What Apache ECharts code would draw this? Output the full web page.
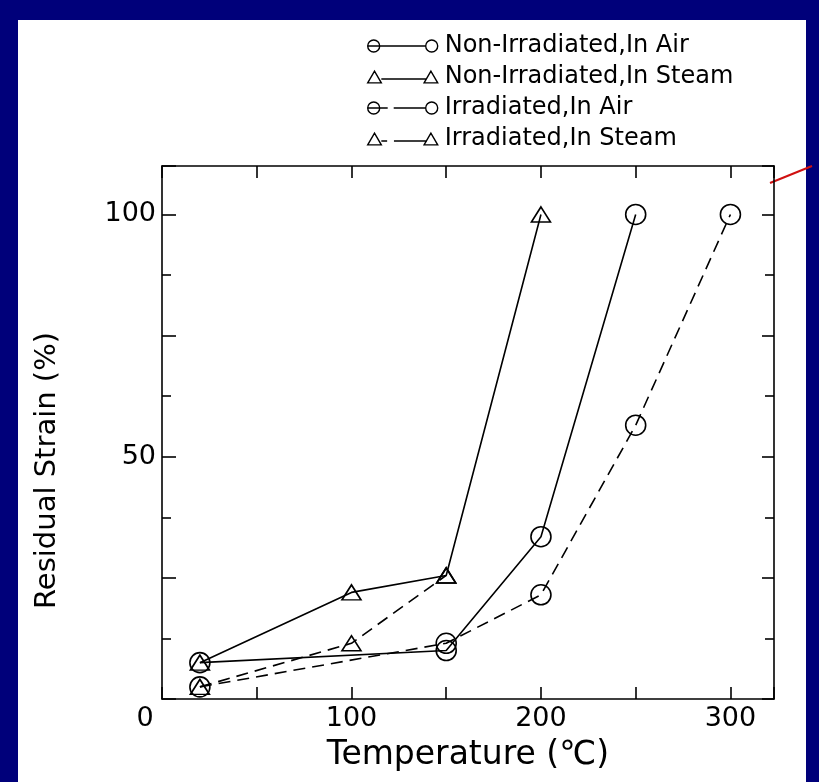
<!DOCTYPE html>
<html>
<head>
    <meta charset="utf-8">
    <title>Residual Strain</title>
    <script type="text/javascript" src="https://cdn.jsdelivr.net/npm/echarts@6.0.0/dist/echarts.min.js"></script>
    <style>
        body { margin:0; background:#00007a; }
        #paper { position:absolute; left:18px; top:20px; width:788px; height:762px; background:#fff; }
        #main { position:absolute; left:0; top:0; width:819px; height:782px; }
    </style>
</head>
<body>
    <div id="paper"></div>
    <div id="main"></div>
    <script type="text/javascript">
        // data (temperature in C, strain in %)
        var nonIrrAirT   = [20, 150, 200, 250];
        var nonIrrAirS   = [7.5, 10, 33.5, 100];
        var nonIrrSteamT = [20, 100, 150, 200];
        var nonIrrSteamS = [7.5, 22, 25.5, 100];
        var irrAirT      = [20, 150, 200, 250, 300];
        var irrAirS      = [2.5, 11.5, 21.5, 56.5, 100];
        var irrSteamT    = [20, 100, 150];
        var irrSteamS    = [2.5, 11.5, 25.5];
        var names = ['Non-Irradiated,In Air', 'Non-Irradiated,In Steam', 'Irradiated,In Air', 'Irradiated,In Steam'];
        var xLabels = [0, 100, 200, 300];
        var yLabels = [50, 100];

        var myChart = echarts.init(document.getElementById('main'));
        var font = 'DejaVu Sans';

        function pairs(xs, ys) {
            var out = [];
            for (var i = 0; i < xs.length; i++) out.push([xs[i], ys[i]]);
            return out;
        }

        function makeSeries(name, xs, ys, sym, dashed) {
            return {
                name: name,
                type: 'line',
                data: pairs(xs, ys),
                symbol: sym,
                symbolSize: sym == 'triangle' ? [19, 15] : 20,
                lineStyle: { color: '#000', width: 1.6, type: dashed ? [12, 7] : 'solid' },
                itemStyle: { color: 'rgba(255,255,255,0)', borderColor: '#000', borderWidth: 1.6 },
                z: 3
            };
        }

        // legend icons: symbol at both ends, like the printed key
        var circL = 'M1 7 A6 6 0 1 1 13 7 A6 6 0 1 1 1 7 Z ';
        var circR = 'M59 7 A6 6 0 1 1 71 7 A6 6 0 1 1 59 7 Z ';
        var triL = 'M0 13 L7 1 L14 13 Z ';
        var triR = 'M58 13 L65 1 L72 13 Z ';
        var icons = [
            'path://' + circL + 'M1 7 L59 7 ' + circR,
            'path://' + triL + 'M14 9 L60 9 ' + triR,
            'path://' + circL + 'M1 7 L21 7 M27 7 L59 7 ' + circR,
            'path://' + triL + 'M14 9 L20 9 M27 9 L61 9 ' + triR
        ];
        var legendData = [];
        for (var k = 0; k < names.length; k++) {
            legendData.push({ name: names[k], icon: icons[k],
                itemStyle: { color: 'rgba(255,255,255,0)', borderColor: '#000', borderWidth: 1.4 } });
        }

        var tickStyle = { color: '#000', width: 1.6 };

        option = {
            animation: false,
            legend: {
                orient: 'vertical',
                left: 362,
                top: 29,
                itemWidth: 70,
                itemHeight: 14,
                itemGap: 7,
                textStyle: { fontFamily: font, fontSize: 24, lineHeight: 24, color: '#000', padding: [0, 0, 0, 2] },
                data: legendData
            },
            grid: { left: 162, right: 45, top: 166, bottom: 83 },
            xAxis: [
                {
                    type: 'value', min: 0, max: 323, interval: 50,
                    name: 'Temperature (\u2103)', nameLocation: 'middle', nameGap: 40,
                    nameTextStyle: { fontFamily: font, fontSize: 33, color: '#000' },
                    axisLine: { onZero: false, lineStyle: tickStyle },
                    axisTick: { inside: true, length: 12, lineStyle: tickStyle },
                    splitLine: { show: false },
                    axisLabel: {
                        margin: 6, fontFamily: font, fontSize: 27, color: '#000',
                        formatter: function (v) {
                            if (v === 0) return '{o|0}';
                            return xLabels.indexOf(v) >= 0 ? String(v) : '';
                        },
                        rich: { o: { fontFamily: font, fontSize: 27, color: '#000', padding: [0, 34, 0, 0] } }
                    }
                },
                {
                    type: 'value', position: 'top', min: 0, max: 323, interval: 50,
                    axisLine: { onZero: false, lineStyle: tickStyle },
                    axisTick: { inside: true, length: 12, lineStyle: tickStyle },
                    axisLabel: { show: false },
                    splitLine: { show: false }
                }
            ],
            yAxis: [
                {
                    type: 'value', min: 0, max: 110, interval: 25,
                    name: 'Residual Strain (%)', nameLocation: 'middle', nameGap: 100,
                    nameTextStyle: { fontFamily: font, fontSize: 29, color: '#000', padding: [0, 76, 0, 0] },
                    axisLine: { onZero: false, lineStyle: tickStyle },
                    axisTick: { inside: true, length: 14, lineStyle: tickStyle },
                    minorTick: { show: true, splitNumber: 2, length: 9, lineStyle: tickStyle },
                    splitLine: { show: false },
                    axisLabel: {
                        margin: 6, fontFamily: font, fontSize: 27, color: '#000',
                        formatter: function (v) { return yLabels.indexOf(v) >= 0 ? String(v) : ''; }
                    }
                },
                {
                    type: 'value', position: 'right', min: 0, max: 110, interval: 25,
                    axisLine: { show: true, onZero: false, lineStyle: tickStyle },
                    axisTick: { show: true, inside: true, length: 12, lineStyle: tickStyle },
                    minorTick: { show: true, splitNumber: 2, length: 9, lineStyle: tickStyle },
                    axisLabel: { show: false },
                    splitLine: { show: false }
                }
            ],
            graphic: [
                { type: 'line', shape: { x1: 770, y1: 183, x2: 812, y2: 166 },
                  style: { stroke: '#d01010', lineWidth: 2 } }
            ],
            series: [
                makeSeries(names[0], nonIrrAirT, nonIrrAirS, 'circle', false),
                makeSeries(names[1], nonIrrSteamT, nonIrrSteamS, 'triangle', false),
                makeSeries(names[2], irrAirT, irrAirS, 'circle', true),
                makeSeries(names[3], irrSteamT, irrSteamS, 'triangle', true)
            ]
        };

        myChart.setOption(option);
    </script>
</body>
</html>
